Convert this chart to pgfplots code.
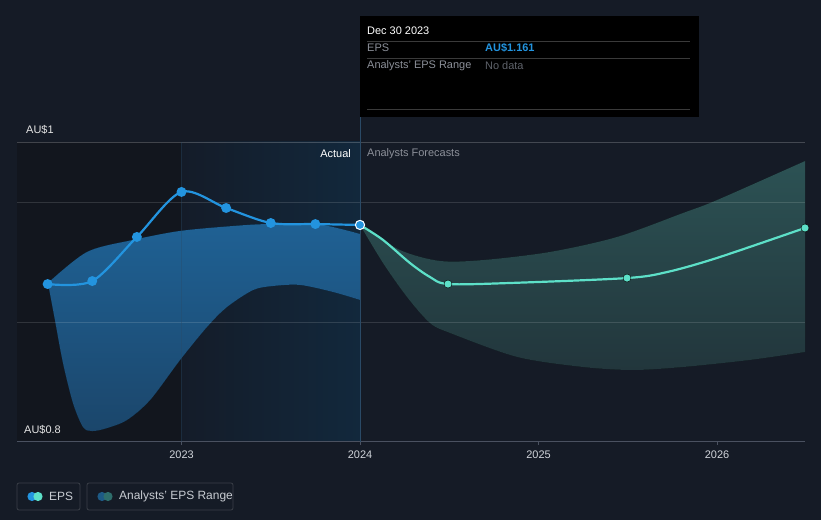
\documentclass[border=0pt]{standalone}
\usepackage{pgfplots}
\pgfplotsset{compat=1.18}
\usepgfplotslibrary{fillbetween}
\usepackage{fontspec}
\setmainfont{Liberation Sans}
\definecolor{bg}{HTML}{151B26}
\definecolor{leftbg}{HTML}{12161E}
\definecolor{actA}{HTML}{141C29}
\definecolor{actB}{HTML}{12283C}
\definecolor{epsblue}{HTML}{2394DF}
\definecolor{epsteal}{HTML}{5DE0C8}
\definecolor{bandmid}{HTML}{1D5784}
\definecolor{bandtop}{HTML}{1F6194}
\definecolor{bandbot}{HTML}{1B466B}
\definecolor{fcmid}{HTML}{274649}
\definecolor{fctop}{HTML}{2C5254}
\definecolor{fcbot}{HTML}{22363C}
\definecolor{axisgrey}{HTML}{4A5160}
\definecolor{ticklab}{HTML}{D0D4DA}
\definecolor{greytxt}{HTML}{8C9099}
\definecolor{nodata}{HTML}{5F636B}
\definecolor{ttline}{HTML}{3A3A3A}
\definecolor{vline}{HTML}{2A4A66}
\definecolor{vlineb}{HTML}{19222E}
\definecolor{legborder}{HTML}{3A3F48}
\definecolor{legtxt}{HTML}{C8CCD2}
\definecolor{legband1}{HTML}{1D5A86}
\definecolor{legband2}{HTML}{2E6E6C}
\begin{document}
\begin{tikzpicture}
\begin{axis}[
  set layers=standard,
  at={(17bp,78bp)}, anchor=south west,
  scale only axis, width=788bp, height=300bp,
  xmin=2022.0784, xmax=2026.493, ymin=0.8, ymax=1.0,
  clip=false,
  axis x line=bottom, axis y line=none,
  x axis line style={color=axisgrey, line width=1bp, -},
  xtick={2023,2024,2025,2026},
  xticklabels={2023,2024,2025,2026},
  major tick length=3bp,
  tick align=outside,
  x tick style={color=axisgrey, line width=0.8bp},
  xticklabel style={font=\fontsize{11}{13}\selectfont, color=ticklab, yshift=-2bp},
  ytick=\empty,
]
% background regions
\begin{pgfonlayer}{axis background}
\fill[bg] (axis cs:2021.983,0.748) rectangle (axis cs:2026.583,1.0947);
\fill[leftbg] (axis cs:2022.0784,0.8) rectangle (axis cs:2023,1.0);
\shade[left color=actA, right color=actB] (axis cs:2023,0.8) rectangle (axis cs:2024,1.0);
\end{pgfonlayer}

% past analyst band
\addplot[name path=pu, draw=none, smooth] coordinates {
 (2022.252,0.9060) (2022.471,0.9267) (2022.728,0.9347) (2022.992,0.9407)
 (2023.289,0.9440) (2023.479,0.9453) (2023.759,0.9453) (2024.0,0.9387)};
\addplot[name path=pl, draw=none, smooth] coordinates {
 (2022.252,0.9060) (2022.291,0.8813) (2022.336,0.8527) (2022.392,0.8260)
 (2022.448,0.8100) (2022.499,0.8073) (2022.583,0.8093) (2022.695,0.8147)
 (2022.824,0.8280) (2022.992,0.8547) (2023.143,0.8767) (2023.255,0.8900)
 (2023.401,0.9013) (2023.513,0.9040) (2023.664,0.9047) (2023.849,0.9000) (2024.0,0.8947)};
\addplot[fill=bandmid, draw=none] fill between[of=pu and pl];
\addplot[top color=bandtop, bottom color=bandbot, draw=none] fill between[of=pu and pl];

% forecast analyst band
\addplot[name path=fu, draw=none, smooth] coordinates {
 (2024.0,0.9447) (2024.224,0.9280) (2024.448,0.9207) (2024.689,0.9213)
 (2025.064,0.9267) (2025.44,0.9367) (2025.81,0.9527) (2026.0,0.9613) (2026.493,0.9873)};
\addplot[name path=fl, draw=none, smooth] coordinates {
 (2024.0,0.9447) (2024.129,0.9193) (2024.263,0.8967) (2024.392,0.8793)
 (2024.504,0.8727) (2024.88,0.8567) (2025.249,0.8500) (2025.529,0.8480)
 (2025.81,0.8500) (2026.185,0.8547) (2026.493,0.8600)};
\addplot[fill=fcmid, draw=none] fill between[of=fu and fl];
\addplot[top color=fctop, bottom color=fcbot, draw=none] fill between[of=fu and fl];

% gridlines
\draw[white, opacity=0.2, line width=0.8bp] (axis cs:2022.0784,1.0) -- (axis cs:2026.493,1.0);
\draw[white, opacity=0.13, line width=0.8bp] (axis cs:2022.0784,0.96) -- (axis cs:2026.493,0.96);
\draw[white, opacity=0.13, line width=0.8bp] (axis cs:2022.0784,0.88) -- (axis cs:2026.493,0.88);
\draw[vline, opacity=0.35, line width=0.8bp] (axis cs:2023,0.8) -- (axis cs:2023,1.0);
\draw[vline, line width=0.8bp] (axis cs:2024,0.8) -- (axis cs:2024,1.0167);

% forecast EPS
\addplot[epsteal, line width=2.2bp, smooth, no marks] coordinates {
 (2024.0,0.9447) (2024.129,0.9347) (2024.28,0.9193) (2024.392,0.9100)
 (2024.493,0.9053) (2024.84,0.9060) (2025.496,0.9093) (2025.72,0.9133)
 (2026.0,0.9227) (2026.493,0.9427)};
\addplot[only marks, mark=*, mark size=4bp, mark options={fill=epsteal, draw=none}] coordinates {
 (2024.493,0.9053) (2025.496,0.9093) (2026.493,0.9427)};

% actual EPS
\addplot[epsblue, line width=2.2bp, smooth, mark=*, mark size=3.8bp, mark options={fill=epsblue, draw=none}] coordinates {
 (2022.25,0.9053) (2022.5,0.9073) (2022.75,0.9367) (2023.0,0.9667)
 (2023.25,0.9560) (2023.5,0.9460) (2023.75,0.9453) (2024.0,0.9447)};
\addplot[only marks, mark=*, mark size=4.6bp, mark options={fill=epsblue, draw=white, line width=1bp}] coordinates {(2024.0,0.9447)};
\end{axis}

% tooltip
\fill[black] (360bp,504bp) rectangle (699bp,403bp);
\draw[ttline, line width=0.8bp] (367bp,479bp) -- (690bp,479bp);
\draw[ttline, line width=0.8bp] (367bp,462bp) -- (690bp,462bp);
\draw[ttline, line width=0.8bp] (367bp,411bp) -- (690bp,411bp);
\node[anchor=west, inner sep=0, white, font=\fontsize{11}{13}\selectfont] at (367bp,489bp) {Dec 30 2023};
\node[anchor=west, inner sep=0, greytxt, font=\fontsize{11}{13}\selectfont] at (367bp,472bp) {EPS};
\node[anchor=west, inner sep=0, epsblue, font=\fontsize{11}{13}\selectfont\bfseries] at (485bp,472bp) {AU\$1.161};
\node[anchor=west, inner sep=0, greytxt, font=\fontsize{11}{13}\selectfont] at (367bp,454bp) {Analysts' EPS Range};
\node[anchor=west, inner sep=0, nodata, font=\fontsize{11}{13}\selectfont] at (485bp,454bp) {No data};

% y labels
\node[anchor=west, inner sep=0, white!90!black, font=\fontsize{11}{13}\selectfont] at (26bp,390bp) {AU\$1};
\node[anchor=west, inner sep=0, white!90!black, font=\fontsize{11}{13}\selectfont] at (24bp,90bp) {AU\$0.8};

% actual / forecasts
\node[anchor=east, inner sep=0, white, font=\fontsize{11}{13}\selectfont] at (351bp,366bp) {Actual};
\node[anchor=west, inner sep=0, greytxt, font=\fontsize{11}{13}\selectfont] at (367bp,366bp) {Analysts Forecasts};

% legend
\draw[legborder, line width=0.8bp, rounded corners=2bp] (17bp,37bp) rectangle (80bp,10bp);
\fill[epsblue] (32bp,23.5bp) circle (4.6bp);
\fill[epsteal] (38bp,23.5bp) circle (4.6bp);
\node[anchor=west, inner sep=0, legtxt, font=\fontsize{12}{14}\selectfont] at (49bp,23.5bp) {EPS};
\draw[legborder, line width=0.8bp, rounded corners=2bp] (87bp,37bp) rectangle (233bp,10bp);
\fill[legband1] (102bp,23.5bp) circle (4.6bp);
\fill[legband2] (108bp,23.5bp) circle (4.6bp);
\node[anchor=west, inner sep=0, legtxt, font=\fontsize{12}{14}\selectfont] at (119bp,23.5bp) {Analysts' EPS Range};

\pgfresetboundingbox
\useasboundingbox (0,0) rectangle (821bp,520bp);
\end{tikzpicture}
\end{document}
